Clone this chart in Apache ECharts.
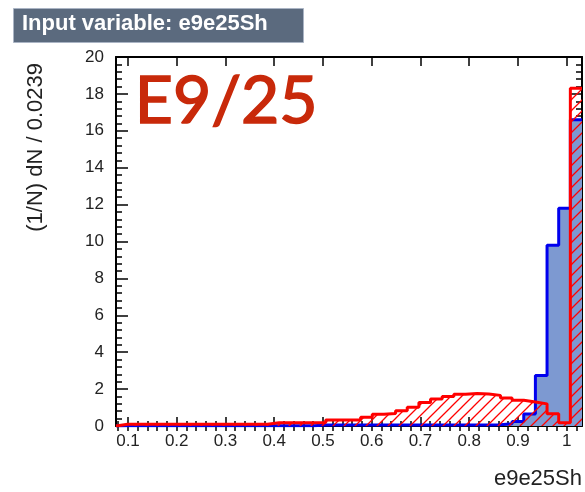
<!DOCTYPE html>
<html>
<head>
<meta charset="utf-8">
<script src="https://cdn.jsdelivr.net/npm/echarts@6/dist/echarts.min.js"></script>
<style>
  html, body { margin: 0; padding: 0; background: #ffffff; }
  #chart { width: 585px; height: 492px; }
</style>
</head>
<body>
<div id="chart"></div>
<script>
// Histogram binning of e9e25Sh: 40 bins of width 0.0239
const binLow = 0.0754;
const binWidth = 0.0239;

// Normalised signal distribution (1/N dN per bin)
const signalValues = [
  0.02, 0.02, 0.02, 0.02, 0.02, 0.02, 0.02, 0.02, 0.02, 0.02,
  0.02, 0.02, 0.02, 0.02, 0.02, 0.02, 0.02, 0.05, 0.05, 0.05,
  0.05, 0.05, 0.05, 0.05, 0.05, 0.05, 0.05, 0.05, 0.05, 0.05,
  0.05, 0.05, 0.07, 0.12, 0.25, 0.65, 2.74, 9.8, 11.8, 16.6
];

// Normalised background distribution (1/N dN per bin)
const backgroundValues = [
  0.09, 0.09, 0.09, 0.09, 0.09, 0.09, 0.09, 0.09, 0.09, 0.09,
  0.09, 0.09, 0.09, 0.18, 0.18, 0.18, 0.18, 0.18, 0.32, 0.32,
  0.32, 0.48, 0.64, 0.68, 0.82, 1.02, 1.28, 1.46, 1.6, 1.72,
  1.76, 1.74, 1.66, 1.52, 1.4, 1.3, 1.2, 0.66, 0.18, 18.3
];

// Axis tick labels
const xTickLabels = ['0.1', '0.2', '0.3', '0.4', '0.5', '0.6', '0.7', '0.8', '0.9', '1'];
const yTickLabels = ['0', '2', '4', '6', '8', '10', '12', '14', '16', '18', '20'];

const nBins = signalValues.length;
const xMin = binLow;
const xMax = binLow + nBins * binWidth;
const xMajor = xTickLabels.map(Number);
const xMinor = [];
for (let k = 4; k <= 51; k++) xMinor.push(+(k * 0.02).toFixed(2));
const yMax = Number(yTickLabels[yTickLabels.length - 1]);
const yStep = Number(yTickLabels[1]) - Number(yTickLabels[0]);

// Step outline points: each bin value held from its low edge to its high edge
function stepData(values) {
  const pts = [[binLow, 0]];
  for (let i = 0; i < values.length; i++) pts.push([binLow + i * binWidth, values[i]]);
  pts.push([binLow + values.length * binWidth, values[values.length - 1]]);
  return pts;
}

// Red diagonal hatch used for the background fill
function hatchPattern() {
  const c = document.createElement('canvas');
  const s = 11;
  c.width = s; c.height = s;
  const g = c.getContext('2d');
  g.strokeStyle = '#ff0000';
  g.lineWidth = 1.3;
  g.beginPath();
  g.moveTo(-1, s + 1); g.lineTo(s + 1, -1);
  g.moveTo(-1, 1); g.lineTo(1, -1);
  g.moveTo(s - 1, s + 1); g.lineTo(s + 1, s - 1);
  g.stroke();
  return c;
}

const font = '"Liberation Sans", Arial, Helvetica, sans-serif';
const frameLine = { show: true, onZero: false, lineStyle: { color: '#000', width: 2 } };

function xAxisDef(position, values, len, withLine, withLabels) {
  return {
    type: 'value', position: position, min: xMin, max: xMax, gridIndex: 0,
    axisLine: withLine ? frameLine : { show: false },
    axisTick: { show: true, inside: true, length: len, customValues: values,
                lineStyle: { color: '#000', width: 1.5 } },
    axisLabel: withLabels ? {
      show: true, customValues: xMajor, margin: 7,
      fontFamily: font, fontSize: 17, color: '#222',
      formatter: v => String(parseFloat(Number(v).toFixed(3)))
    } : { show: false },
    splitLine: { show: false }
  };
}

function yAxisDef(position, withLabels) {
  return {
    type: 'value', position: position, min: 0, max: yMax, interval: yStep,
    axisLine: frameLine,
    axisTick: { show: true, inside: true, length: 12, lineStyle: { color: '#000', width: 1.5 } },
    minorTick: { show: true, splitNumber: 5, length: 6, lineStyle: { color: '#000', width: 1.5 } },
    axisLabel: withLabels ? { show: true, margin: 12, fontFamily: font, fontSize: 17, color: '#222' } : { show: false },
    splitLine: { show: false }
  };
}

const chart = echarts.init(document.getElementById('chart'), null, { renderer: 'canvas' });

chart.setOption({
  backgroundColor: '#ffffff',
  animation: false,
  grid: { left: 116, right: 3, top: 57, bottom: 66 },
  xAxis: [
    xAxisDef('bottom', xMajor, 9, true, true),
    xAxisDef('bottom', xMinor, 5, false, false),
    xAxisDef('top', xMajor, 9, true, false),
    xAxisDef('top', xMinor, 5, false, false)
  ],
  yAxis: [yAxisDef('left', true), yAxisDef('right', false)],
  series: [
    {
      name: 'Signal', type: 'line', step: 'end', symbol: 'none',
      xAxisIndex: 0, yAxisIndex: 0, z: 2,
      data: stepData(signalValues),
      lineStyle: { color: '#0000ee', width: 3 },
      areaStyle: { color: '#7d99d1', opacity: 1 }
    },
    {
      name: 'Background', type: 'line', step: 'end', symbol: 'none',
      xAxisIndex: 0, yAxisIndex: 0, z: 3,
      data: stepData(backgroundValues),
      lineStyle: { color: '#ff0000', width: 3 },
      areaStyle: { color: { image: hatchPattern(), repeat: 'repeat' }, opacity: 1 }
    }
  ],
  graphic: [
    {
      type: 'rect', left: 13, top: 8, z: 10,
      shape: { width: 290, height: 34 },
      style: { fill: '#5b6a7e', stroke: '#aab4c4', lineWidth: 1 }
    },
    {
      type: 'text', left: 22, top: 13, z: 11,
      style: { text: 'Input variable: e9e25Sh', fill: '#ffffff',
               font: 'bold 22px ' + font }
    },
    {
      type: 'text', left: 134, top: 68, z: 11,
      style: { text: 'E9/25', fill: '#c8290a', stroke: '#c8290a', lineWidth: 1.6,
               font: '66px Lato, "Noto Sans", sans-serif' }
    },
    {
      type: 'text', x: 582, y: 479, z: 11,
      style: { text: 'e9e25Sh', fill: '#222', font: '22px ' + font,
               align: 'right', verticalAlign: 'middle' }
    },
    {
      type: 'text', x: 36, y: 63, rotation: Math.PI / 2, z: 11,
      style: { text: '(1/N) dN / 0.0239', fill: '#222', font: '22px ' + font,
               align: 'right', verticalAlign: 'middle' }
    }
  ]
});
</script>
</body>
</html>
